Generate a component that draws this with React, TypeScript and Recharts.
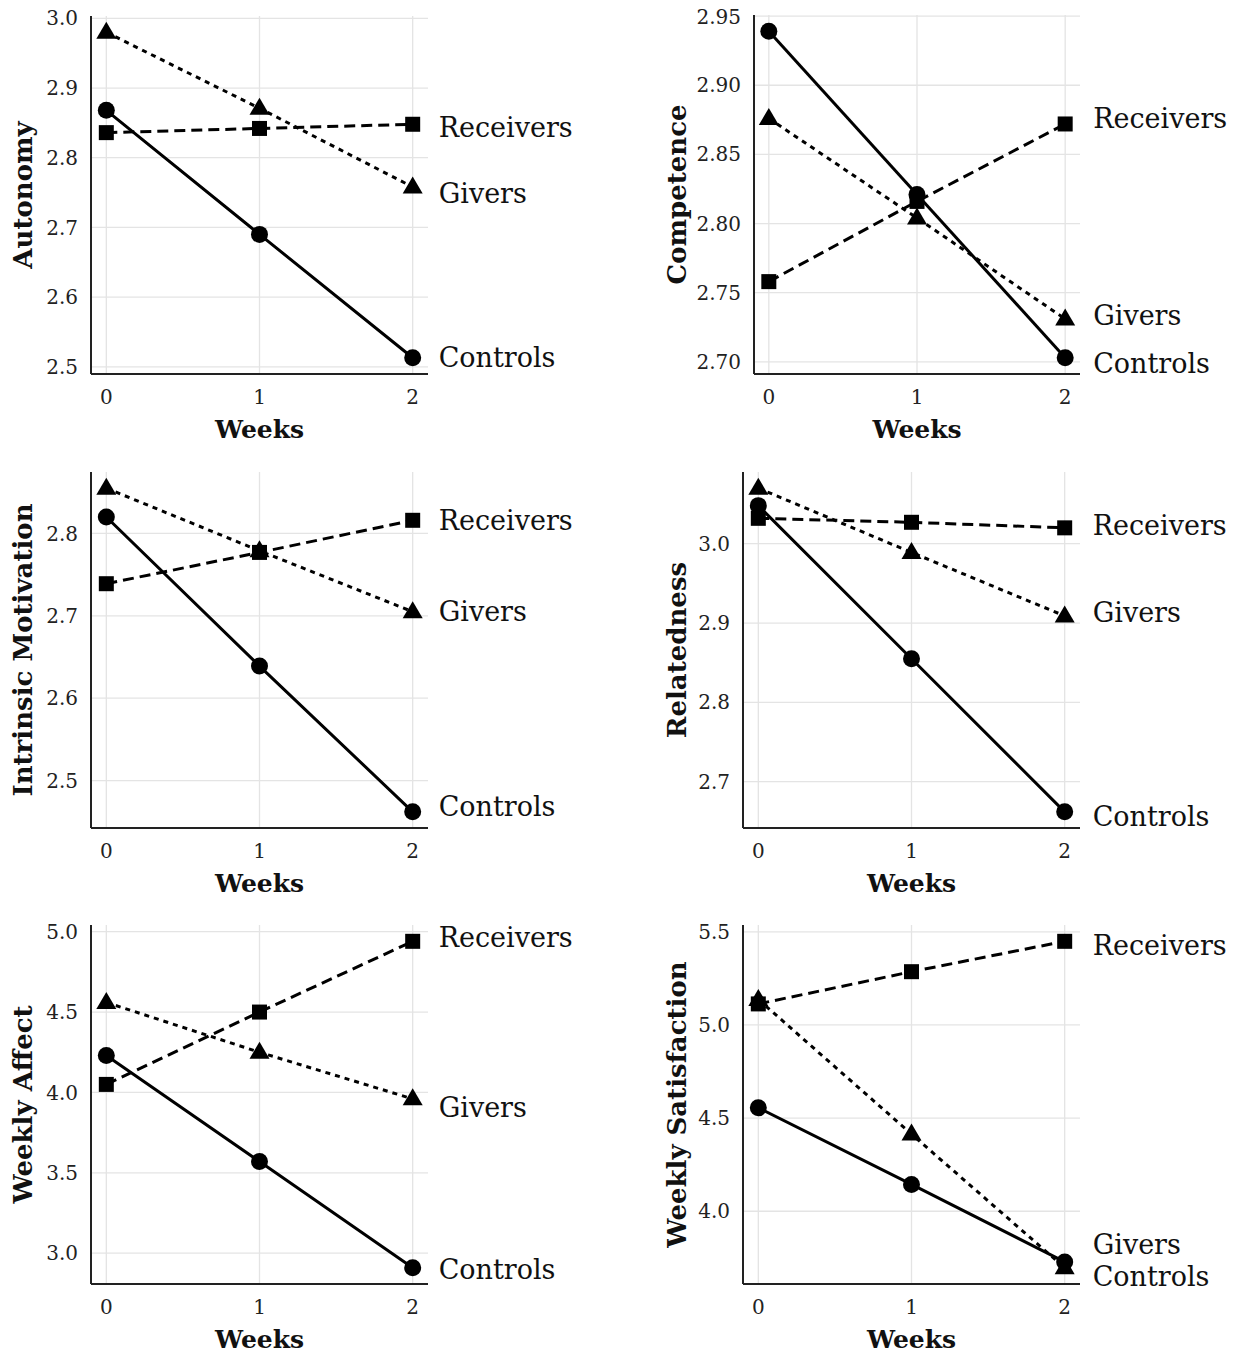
import React from 'react';
import { LineChart, Line, XAxis, YAxis, CartesianGrid, LabelList } from 'recharts';

// weeks on the x axis
const weeks = [0, 1, 2];

// Autonomy
const autonomyReceivers = [2.836, 2.842, 2.848];
const autonomyGivers = [2.980, 2.871, 2.758];
const autonomyControls = [2.868, 2.690, 2.513];
const autonomyTicks = [2.5, 2.6, 2.7, 2.8, 2.9, 3.0];

// Competence
const competenceReceivers = [2.758, 2.816, 2.872];
const competenceGivers = [2.876, 2.804, 2.731];
const competenceControls = [2.939, 2.821, 2.703];
const competenceTicks = [2.70, 2.75, 2.80, 2.85, 2.90, 2.95];

// Intrinsic Motivation
const intrinsicReceivers = [2.739, 2.777, 2.816];
const intrinsicGivers = [2.855, 2.779, 2.705];
const intrinsicControls = [2.820, 2.639, 2.462];
const intrinsicTicks = [2.5, 2.6, 2.7, 2.8];

// Relatedness
const relatednessReceivers = [3.032, 3.027, 3.020];
const relatednessGivers = [3.070, 2.989, 2.909];
const relatednessControls = [3.048, 2.855, 2.662];
const relatednessTicks = [2.7, 2.8, 2.9, 3.0];

// Weekly Affect
const affectReceivers = [4.05, 4.50, 4.94];
const affectGivers = [4.56, 4.25, 3.96];
const affectControls = [4.23, 3.57, 2.91];
const affectTicks = [3.0, 3.5, 4.0, 4.5, 5.0];

// Weekly Satisfaction
const satisfactionReceivers = [5.113, 5.286, 5.449];
const satisfactionGivers = [5.137, 4.414, 3.697];
const satisfactionControls = [4.555, 4.144, 3.728];
const satisfactionTicks = [4.0, 4.5, 5.0, 5.5];

const FONT = '"DejaVu Serif", serif';

type PanelCfg = {
  title: string;
  receivers: number[];
  givers: number[];
  controls: number[];
  ticks: number[];
  decimals: number;
  plotLeft: number;
  plotRight: number;
  plotTop: number;
  plotBottom: number;
  titleX: number;
  labelDx: number;
  labelDy: { receivers: number; givers: number; controls: number };
};

const panels: PanelCfg[] = [
  {
    title: 'Autonomy', receivers: autonomyReceivers, givers: autonomyGivers, controls: autonomyControls,
    ticks: autonomyTicks, decimals: 1, plotLeft: 91, plotRight: 428, plotTop: 16, plotBottom: 374, titleX: 23,
    labelDx: 26, labelDy: { receivers: 3, givers: 7, controls: 0 },
  },
  {
    title: 'Competence', receivers: competenceReceivers, givers: competenceGivers, controls: competenceControls,
    ticks: competenceTicks, decimals: 2, plotLeft: 754, plotRight: 1080, plotTop: 15, plotBottom: 374, titleX: 677,
    labelDx: 28, labelDy: { receivers: -5, givers: -3, controls: 6 },
  },
  {
    title: 'Intrinsic Motivation', receivers: intrinsicReceivers, givers: intrinsicGivers, controls: intrinsicControls,
    ticks: intrinsicTicks, decimals: 1, plotLeft: 91, plotRight: 428, plotTop: 472, plotBottom: 828, titleX: 23,
    labelDx: 26, labelDy: { receivers: 0, givers: 0, controls: -5 },
  },
  {
    title: 'Relatedness', receivers: relatednessReceivers, givers: relatednessGivers, controls: relatednessControls,
    ticks: relatednessTicks, decimals: 1, plotLeft: 743, plotRight: 1080, plotTop: 472, plotBottom: 828, titleX: 677,
    labelDx: 28, labelDy: { receivers: -2, givers: -3, controls: 5 },
  },
  {
    title: 'Weekly Affect', receivers: affectReceivers, givers: affectGivers, controls: affectControls,
    ticks: affectTicks, decimals: 1, plotLeft: 91, plotRight: 428, plotTop: 925, plotBottom: 1284, titleX: 23,
    labelDx: 26, labelDy: { receivers: -4, givers: 9, controls: 2 },
  },
  {
    title: 'Weekly Satisfaction', receivers: satisfactionReceivers, givers: satisfactionGivers, controls: satisfactionControls,
    ticks: satisfactionTicks, decimals: 1, plotLeft: 743, plotRight: 1080, plotTop: 925, plotBottom: 1284, titleX: 677,
    labelDx: 28, labelDy: { receivers: 4, givers: -23, controls: 15 },
  },
];

const circleDot = (p: any) => (
  <circle key={`c-${p.index}`} cx={p.cx} cy={p.cy} r={8.5} fill="#000" />
);
const squareDot = (p: any) => (
  <rect key={`s-${p.index}`} x={p.cx - 7.5} y={p.cy - 7.5} width={15} height={15} fill="#000" />
);
const triangleDot = (p: any) => (
  <polygon
    key={`t-${p.index}`}
    points={`${p.cx},${p.cy - 10.5} ${p.cx - 10},${p.cy + 6.5} ${p.cx + 10},${p.cy + 6.5}`}
    fill="#000"
  />
);

const endLabel = (text: string, dx: number, dy: number) => (p: any) => {
  if (p.index !== weeks.length - 1) return null;
  const x = p.x ?? p.viewBox?.x;
  const y = p.y ?? p.viewBox?.y;
  return (
    <text x={x + dx} y={y + dy} dominantBaseline="central" fontFamily={FONT} fontSize={27} fill="#111">
      {text}
    </text>
  );
};

const Panel: React.FC<{ cfg: PanelCfg }> = ({ cfg }) => {
  const data = weeks.map((w, i) => ({
    week: w,
    receivers: cfg.receivers[i],
    givers: cfg.givers[i],
    controls: cfg.controls[i],
  }));
  const all = [...cfg.receivers, ...cfg.givers, ...cfg.controls];
  const lo = Math.min(...all);
  const hi = Math.max(...all);
  const pad = (hi - lo) * 0.05;

  const yAxisWidth = 60;
  const leftMargin = 31;
  const chartLeft = cfg.plotLeft - yAxisWidth - leftMargin;
  const chartWidth = cfg.plotLeft < 600 ? 620 - chartLeft : 1246 - chartLeft;
  const topMargin = 10;
  const xAxisHeight = 40;
  const bottomMargin = 40;
  const chartTop = cfg.plotTop - topMargin;
  const chartHeight = cfg.plotBottom - cfg.plotTop + topMargin + xAxisHeight + bottomMargin;
  const titleX = cfg.titleX - chartLeft;

  return (
    <div style={{ position: 'absolute', left: chartLeft, top: chartTop }}>
      <LineChart
        width={chartWidth}
        height={chartHeight}
        data={data}
        margin={{ top: topMargin, right: chartWidth - (cfg.plotRight - chartLeft), left: leftMargin, bottom: bottomMargin }}
      >
        <CartesianGrid stroke="#e4e4e4" strokeWidth={1.3} syncWithTicks />
        <XAxis
          dataKey="week"
          type="number"
          domain={[-0.1, 2.1]}
          ticks={weeks}
          height={xAxisHeight}
          tickLine={false}
          tickMargin={10}
          axisLine={{ stroke: '#222', strokeWidth: 2 }}
          tick={{ fontFamily: FONT, fontSize: 20, fill: '#222' }}
          label={{
            content: (p: any) => {
              const vb = p.viewBox || {};
              return (
                <text
                  x={vb.x + vb.width / 2}
                  y={vb.y + 55}
                  textAnchor="middle"
                  dominantBaseline="central"
                  fontFamily={FONT}
                  fontWeight="bold"
                  fontSize={25}
                  fill="#111"
                >
                  Weeks
                </text>
              );
            },
          }}
        />
        <YAxis
          type="number"
          domain={[lo - pad, hi + pad]}
          ticks={cfg.ticks}
          width={yAxisWidth}
          tickLine={false}
          tickMargin={7}
          allowDataOverflow
          axisLine={{ stroke: '#222', strokeWidth: 2 }}
          tickFormatter={(v: number) => v.toFixed(cfg.decimals)}
          tick={{ fontFamily: FONT, fontSize: 20, fill: '#222' }}
          label={{
            content: (p: any) => {
              const vb = p.viewBox || {};
              const cy = vb.y + vb.height / 2;
              return (
                <text
                  x={titleX}
                  y={cy}
                  transform={`rotate(-90, ${titleX}, ${cy})`}
                  textAnchor="middle"
                  dominantBaseline="central"
                  fontFamily={FONT}
                  fontWeight="bold"
                  fontSize={26}
                  fill="#111"
                >
                  {cfg.title}
                </text>
              );
            },
          }}
        />
        <Line
          type="linear"
          dataKey="receivers"
          stroke="#000"
          strokeWidth={3}
          strokeDasharray="11 6"
          dot={squareDot}
          activeDot={false}
          isAnimationActive={false}
        >
          <LabelList dataKey="receivers" content={endLabel('Receivers', cfg.labelDx, cfg.labelDy.receivers)} />
        </Line>
        <Line
          type="linear"
          dataKey="givers"
          stroke="#000"
          strokeWidth={3}
          strokeDasharray="5 5"
          dot={triangleDot}
          activeDot={false}
          isAnimationActive={false}
        >
          <LabelList dataKey="givers" content={endLabel('Givers', cfg.labelDx, cfg.labelDy.givers)} />
        </Line>
        <Line
          type="linear"
          dataKey="controls"
          stroke="#000"
          strokeWidth={3}
          dot={circleDot}
          activeDot={false}
          isAnimationActive={false}
        >
          <LabelList dataKey="controls" content={endLabel('Controls', cfg.labelDx, cfg.labelDy.controls)} />
        </Line>
      </LineChart>
    </div>
  );
};

export default function App() {
  return (
    <div style={{ position: 'absolute', left: 0, top: 0, width: 1246, height: 1357, background: '#fff' }}>
      {panels.map((cfg) => (
        <Panel key={cfg.title} cfg={cfg} />
      ))}
    </div>
  );
}
